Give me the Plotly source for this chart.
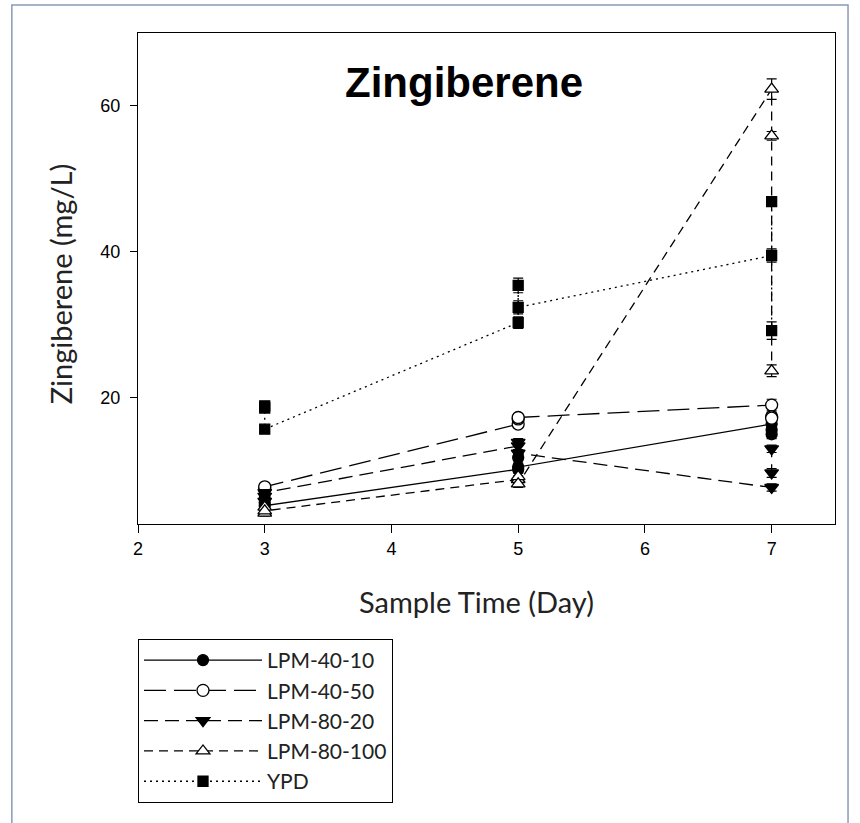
import plotly.graph_objects as go

# ---- data (replicates per sample day, in plotted order) ----
sample_day = [3, 3, 3, 5, 5, 5, 7, 7, 7]

lpm_40_10 = [6.2, 5.6, 5.2, 10.2, 11.8, 10.5, 16.4, 15.6, 15.0]
lpm_40_10_err = [0.5, 0.4, 0.4, 0.5, 0.6, 0.5, 0.6, 0.5, 0.6]

lpm_40_50 = [7.4, 7.6, 7.8, 16.4, 17.1, 17.3, 19.0, 17.4, 17.2]
lpm_40_50_err = [0.4, 0.4, 0.4, 0.5, 0.5, 0.5, 0.8, 0.6, 0.5]

lpm_80_20 = [5.8, 6.5, 7.0, 13.4, 13.9, 12.4, 7.7, 9.7, 13.0]
lpm_80_20_err = [0.4, 0.4, 0.4, 0.5, 0.5, 0.5, 0.5, 0.6, 0.5]

lpm_80_100 = [5.0, 4.2, 4.5, 8.8, 9.2, 8.2, 62.3, 55.9, 23.7]
lpm_80_100_err = [0.4, 0.4, 0.4, 0.5, 0.5, 0.5, 1.4, 0.6, 0.8]

ypd = [18.9, 18.6, 15.7, 30.3, 35.4, 32.4, 39.5, 46.9, 29.2]
ypd_err = [0.5, 0.4, 0.4, 0.8, 1.0, 0.9, 0.9, 0.6, 1.2]

series_names = ["LPM-40-10", "LPM-40-50", "LPM-80-20", "LPM-80-100", "YPD"]
x_ticks = [2, 3, 4, 5, 6, 7]
y_ticks = [20, 40, 60]

# ---- styles ----
styles = [
    dict(dash="solid", symbol="circle", fill="black", size=11),
    dict(dash="22px,8px", symbol="circle", fill="white", size=12),
    dict(dash="14px,7px", symbol="triangle-down", fill="black", size=12),
    dict(dash="9px,6px", symbol="triangle-up", fill="white", size=12),
    dict(dash="2px,4px", symbol="square", fill="black", size=10),
]
values = [lpm_40_10, lpm_40_50, lpm_80_20, lpm_80_100, ypd]
errors = [lpm_40_10_err, lpm_40_50_err, lpm_80_20_err, lpm_80_100_err, ypd_err]

fig = go.Figure()
for name, vals, errs, st in zip(series_names, values, errors, styles):
    fig.add_trace(go.Scatter(
        x=sample_day, y=vals, name=name, mode="lines+markers",
        line=dict(color="black", width=1.3, dash=st["dash"]),
        marker=dict(symbol=st["symbol"], size=st["size"], color=st["fill"],
                    line=dict(color="black", width=1.3)),
        error_y=dict(type="data", array=errs, visible=True,
                     color="black", thickness=1.2, width=5),
    ))

axis_font = dict(family="Liberation Sans, Arial, sans-serif", size=18, color="black")
title_font = dict(family="Lato, Open Sans, sans-serif", size=29, color="#222")

fig.update_layout(
    width=860, height=823,
    margin=dict(l=138, r=25, t=33, b=299, autoexpand=False),
    paper_bgcolor="white", plot_bgcolor="white",
    showlegend=True,
    legend=dict(
        x=0, y=-0.234, xanchor="left", yanchor="top",
        bordercolor="black", borderwidth=1, bgcolor="white",
        font=dict(family="Lato, Open Sans, sans-serif", size=21, color="#222"),
        itemwidth=118,
    ),
    xaxis=dict(
        range=[2, 7.5], tickvals=x_ticks, ticks="outside", ticklen=8,
        tickwidth=1.3, tickcolor="black", showline=True, linecolor="black",
        linewidth=1.3, mirror=True, showgrid=False, zeroline=False,
        tickfont=axis_font,
    ),
    yaxis=dict(
        range=[2.7, 70], tickvals=y_ticks, ticks="outside", ticklen=7,
        tickwidth=1.3, tickcolor="black", showline=True, linecolor="black",
        linewidth=1.3, mirror=True, showgrid=False, zeroline=False,
        tickfont=axis_font, ticklabelstandoff=6,
    ),
    annotations=[
        dict(text="<b>Zingiberene</b>", xref="paper", yref="paper",
             x=0.468, y=0.9, xanchor="center", yanchor="middle", showarrow=False,
             font=dict(family="Liberation Sans, Arial, sans-serif", size=42, color="black")),
        dict(text="Sample Time (Day)", xref="paper", yref="paper",
             x=0.485, y=-0.157, xanchor="center", yanchor="middle", showarrow=False,
             font=title_font),
        dict(text="Zingiberene (mg/L)", xref="paper", yref="paper",
             x=-0.112, y=0.49, xanchor="center", yanchor="middle", showarrow=False,
             textangle=-90, font=title_font),
    ],
    shapes=[dict(
        type="rect", xref="paper", yref="paper",
        x0=-0.181, x1=1.0187, y0=-0.64, y1=1.057,
        line=dict(color="#8a9bb5", width=1.5), layer="below",
    )],
)

fig.write_html("out.html", config={"displayModeBar": False},
               post_script="document.body.style.margin='0';")
